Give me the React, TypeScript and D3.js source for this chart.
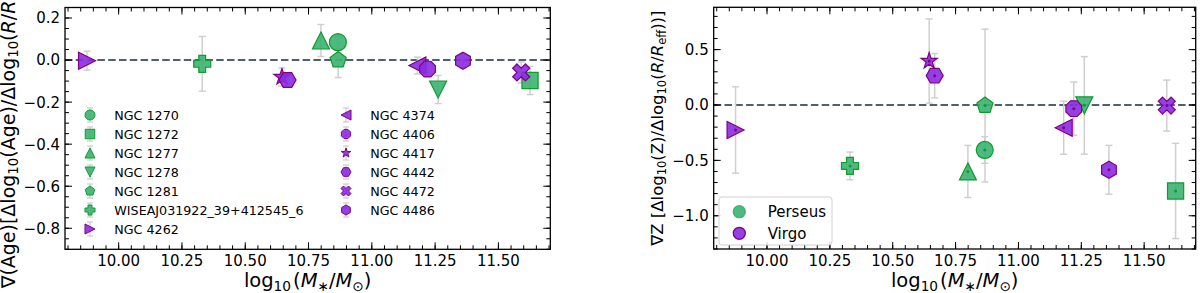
import React from "react";
import * as d3 from "d3";

// ---------------- data ----------------
const galaxies = [
  "NGC 1270", "NGC 1272", "NGC 1277", "NGC 1278", "NGC 1281",
  "WISEAJ031922_39+412545_6", "NGC 4262", "NGC 4374", "NGC 4406",
  "NGC 4417", "NGC 4442", "NGC 4472", "NGC 4486",
];
const clusters = [
  "Perseus", "Perseus", "Perseus", "Perseus", "Perseus", "Perseus",
  "Virgo", "Virgo", "Virgo", "Virgo", "Virgo", "Virgo", "Virgo",
];
const markerTypes = ["o", "s", "^", "v", "p", "P", ">", "<", "8", "*", "H", "X", "h"];
const logMass = [10.866, 11.625, 10.799, 11.262, 10.867, 10.33, 9.875, 11.18, 11.22, 10.645, 10.667, 11.59, 11.36];
const ageGrad = [0.085, -0.097, 0.093, -0.14, 0.0, -0.018, -0.003, -0.026, -0.043, -0.081, -0.095, -0.059, -0.003];
const ageErr = [0.03, 0.067, 0.076, 0.067, 0.083, 0.13, 0.045, 0.04, 0.03, 0.043, 0.03, 0.05, 0.035];
const zGrad = [-0.406, -0.776, -0.6, -0.003, -0.005, -0.55, -0.225, -0.205, -0.033, 0.397, 0.265, -0.005, -0.585];
const zErr = [0.12, 0.43, 0.235, 0.44, 0.69, 0.125, 0.39, 0.24, 0.24, 0.38, 0.2, 0.23, 0.22];
const clusterNames = ["Perseus", "Virgo"];
const xTicks = [10.0, 10.25, 10.5, 10.75, 11.0, 11.25, 11.5];
const ageTicks = [0.2, 0.0, -0.2, -0.4, -0.6, -0.8];
const zTicks = [0.5, 0.0, -0.5, -1.0];
const xDomain = [9.788, 11.705];
const ageDomain = [-0.9, 0.25];
const zDomain = [-1.3, 0.882];

// ---------------- style ----------------
const FONT = "DejaVu Sans, Verdana, sans-serif";
const FILL: Record<string, string> = { Perseus: "#3cb371", Virgo: "#8a2be2" };
const EDGE: Record<string, string> = { Perseus: "#119a2e", Virgo: "#800080" };
const ERR_COLOR = "#cfcfcf";
const ZERO_COLOR = "#4e6072";

function poly(pts: number[][]) {
  return "M" + pts.map((p) => `${p[0].toFixed(2)},${p[1].toFixed(2)}`).join("L") + "Z";
}
function regular(n: number, r: number, rot: number) {
  const pts: number[][] = [];
  for (let i = 0; i < n; i++) {
    const a = -Math.PI / 2 + rot + (i * 2 * Math.PI) / n;
    pts.push([r * Math.cos(a), r * Math.sin(a)]);
  }
  return poly(pts);
}
function markerPath(t: string, ms: number) {
  const h = ms / 2;
  switch (t) {
    case "o":
      return `M${-h},0A${h},${h} 0 1,0 ${h},0A${h},${h} 0 1,0 ${-h},0Z`;
    case "s": {
      const s = h * 0.95;
      return poly([[-s, -s], [s, -s], [s, s], [-s, s]]);
    }
    case "^":
      return poly([[0, -h], [-h, h], [h, h]]);
    case "v":
      return poly([[0, h], [-h, -h], [h, -h]]);
    case ">":
      return poly([[h, 0], [-h, -h], [-h, h]]);
    case "<":
      return poly([[-h, 0], [h, -h], [h, h]]);
    case "p":
      return regular(5, h, 0);
    case "h":
      return regular(6, h, 0);
    case "H":
      return regular(6, h, Math.PI / 6);
    case "8":
      return regular(8, h, Math.PI / 8);
    case "*": {
      const pts: number[][] = [];
      for (let i = 0; i < 10; i++) {
        const r = i % 2 === 0 ? h : h * 0.381966;
        const a = -Math.PI / 2 + (i * Math.PI) / 5;
        pts.push([r * Math.cos(a), r * Math.sin(a)]);
      }
      return poly(pts);
    }
    case "P": {
      const b = [[-1, -0.4], [-1, 0.4], [-0.4, 0.4], [-0.4, 1], [0.4, 1], [0.4, 0.4], [1, 0.4], [1, -0.4], [0.4, -0.4], [0.4, -1], [-0.4, -1], [-0.4, -0.4]];
      return poly(b.map((p) => [p[0] * h, p[1] * h]));
    }
    case "X": {
      const b = [[-1, -2], [0, -1], [1, -2], [2, -1], [1, 0], [2, 1], [1, 2], [0, 1], [-1, 2], [-2, 1], [-1, 0], [-2, -1]];
      return poly(b.map((p) => [(p[0] * ms) / 4, (p[1] * ms) / 4]));
    }
  }
  return "";
}

type Frame = { x0: number; x1: number; y0: number; y1: number };

function range(lo: number, hi: number, step: number) {
  const a = Math.ceil(lo / step - 1e-9);
  const b = Math.floor(hi / step + 1e-9);
  return d3.range(a, b + 1).map((i) => +(i * step).toFixed(6));
}

function Panel(props: {
  frame: Frame;
  yDomain: number[];
  yVals: number[];
  yErrs: number[];
  yMajor: number[];
  yMinorStep: number;
  dots: boolean;
}) {
  const { frame, yDomain, yVals, yErrs, yMajor, yMinorStep, dots } = props;
  const x = d3.scaleLinear().domain(xDomain).range([frame.x0, frame.x1]);
  const y = d3.scaleLinear().domain(yDomain).range([frame.y1, frame.y0]);
  const xMinor = range(xDomain[0], xDomain[1], 0.05);
  const yMinor = range(yDomain[0], yDomain[1], yMinorStep);
  const fx = d3.format(".2f");
  const fy = d3.format(".1f");
  const MAJ = 7, MIN = 4;
  const cap = 3.5;
  return (
    <g>
      {/* zero line */}
      <line x1={frame.x0} x2={frame.x1} y1={y(0)} y2={y(0)} stroke={ZERO_COLOR} strokeWidth={2} strokeDasharray="7.5,3.3" />
      {/* error bars */}
      {logMass.map((m, i) => {
        const cx = x(m);
        const ya = y(yVals[i] + yErrs[i]);
        const yb = y(yVals[i] - yErrs[i]);
        return (
          <g key={"e" + i} stroke={ERR_COLOR} strokeWidth={1.5}>
            <line x1={cx} x2={cx} y1={ya} y2={yb} />
            <line x1={cx - cap} x2={cx + cap} y1={ya} y2={ya} />
            <line x1={cx - cap} x2={cx + cap} y1={yb} y2={yb} />
          </g>
        );
      })}
      {/* markers */}
      {logMass.map((m, i) => (
        <path
          key={"m" + i}
          d={markerPath(markerTypes[i], 17)}
          transform={`translate(${x(m)},${y(yVals[i])})`}
          fill={FILL[clusters[i]]}
          fillOpacity={0.9}
          stroke={EDGE[clusters[i]]}
          strokeWidth={1.2}
          strokeLinejoin="miter"
        />
      ))}
      {dots &&
        logMass.map((m, i) => (
          <circle key={"d" + i} cx={x(m)} cy={y(yVals[i])} r={1.5} fill={EDGE[clusters[i]]} />
        ))}
      {/* ticks */}
      <g stroke="#000" strokeWidth={1}>
        {xMinor.map((v) => (
          <g key={"xm" + v}>
            <line x1={x(v)} x2={x(v)} y1={frame.y1} y2={frame.y1 - MIN} />
            <line x1={x(v)} x2={x(v)} y1={frame.y0} y2={frame.y0 + MIN} />
          </g>
        ))}
        {xTicks.map((v) => (
          <g key={"xM" + v}>
            <line x1={x(v)} x2={x(v)} y1={frame.y1} y2={frame.y1 - MAJ} />
            <line x1={x(v)} x2={x(v)} y1={frame.y0} y2={frame.y0 + MAJ} />
          </g>
        ))}
        {yMinor.map((v) => (
          <g key={"ym" + v}>
            <line x1={frame.x0} x2={frame.x0 + MIN} y1={y(v)} y2={y(v)} />
            <line x1={frame.x1} x2={frame.x1 - MIN} y1={y(v)} y2={y(v)} />
          </g>
        ))}
        {yMajor.map((v) => (
          <g key={"yM" + v}>
            <line x1={frame.x0} x2={frame.x0 + MAJ} y1={y(v)} y2={y(v)} />
            <line x1={frame.x1} x2={frame.x1 - MAJ} y1={y(v)} y2={y(v)} />
          </g>
        ))}
      </g>
      {/* tick labels */}
      <g fontFamily={FONT} fontSize={15} fill="#000">
        {xTicks.map((v) => (
          <text key={"xl" + v} x={x(v)} y={frame.y1 + 16.5} textAnchor="middle">
            {fx(v)}
          </text>
        ))}
        {yMajor.map((v) => (
          <text key={"yl" + v} x={frame.x0 - 5} y={y(v)} dy="0.36em" textAnchor="end">
            {fy(v)}
          </text>
        ))}
      </g>
      {/* frame */}
      <rect x={frame.x0} y={frame.y0} width={frame.x1 - frame.x0} height={frame.y1 - frame.y0} fill="none" stroke="#000" strokeWidth={1.3} />
    </g>
  );
}

function XLabel({ cx }: { cx: number }) {
  return (
    <text x={cx} y={287} textAnchor="middle" fontFamily={FONT} fontSize={19.5}>
      <tspan>log</tspan>
      <tspan dy={4} fontSize={13.7}>10</tspan>
      <tspan dy={-4} dx={2}>(</tspan>
      <tspan fontStyle="italic">M</tspan>
      <tspan dy={4} fontSize={13.7}>∗</tspan>
      <tspan dy={-4}>/</tspan>
      <tspan fontStyle="italic">M</tspan>
      <tspan dy={4} fontSize={13.7}>⊙</tspan>
      <tspan dy={-4}>)</tspan>
    </text>
  );
}

function LeftLegend() {
  return (
    <g fontFamily={FONT} fontSize={12.7}>
      {galaxies.map((g, i) => {
        const col = i < 7 ? 0 : 1;
        const row = i < 7 ? i : i - 7;
        const mx = 90 + col * 256;
        const my = 115 + row * 19;
        return (
          <g key={g}>
            <g stroke={ERR_COLOR} strokeWidth={1.3}>
              <line x1={mx} x2={mx} y1={my - 7} y2={my + 7} />
              <line x1={mx - 3} x2={mx + 3} y1={my - 7} y2={my - 7} />
              <line x1={mx - 3} x2={mx + 3} y1={my + 7} y2={my + 7} />
            </g>
            <path
              d={markerPath(markerTypes[i], 10)}
              transform={`translate(${mx},${my})`}
              fill={FILL[clusters[i]]}
              fillOpacity={0.9}
              stroke={EDGE[clusters[i]]}
              strokeWidth={1}
            />
            <text x={mx + 24.3} y={my} dy="0.36em">{g}</text>
          </g>
        );
      })}
    </g>
  );
}

function RightLegend() {
  return (
    <g fontFamily={FONT} fontSize={15}>
      <rect x={719} y={197} width={113} height={48} rx={3} fill="#fff" fillOpacity={0.8} stroke="#d0d0d0" strokeWidth={1} />
      {clusterNames.map((c, i) => (
        <g key={c}>
          <circle
            cx={739.3}
            cy={211.7 + i * 21.6}
            r={6}
            fill={FILL[c]}
            fillOpacity={0.9}
            stroke={c === "Virgo" ? EDGE[c] : FILL[c]}
            strokeWidth={1.3}
          />
          <text x={767.7} y={211.7 + i * 21.6} dy="0.36em">{c}</text>
        </g>
      ))}
    </g>
  );
}

export default function App() {
  const L: Frame = { x0: 65, x1: 550.3, y0: 7.5, y1: 249.3 };
  const R: Frame = { x0: 713.7, x1: 1195.7, y0: 7.3, y1: 249 };
  return (
    <svg
      width={1200}
      height={293}
      viewBox="0 0 1200 293"
      style={{ position: "absolute", left: 0, top: 0, background: "#fff" }}
    >
      <rect x={0} y={0} width={1200} height={293} fill="#fff" />
      <Panel frame={L} yDomain={ageDomain} yVals={ageGrad} yErrs={ageErr} yMajor={ageTicks} yMinorStep={0.05} dots={false} />
      <Panel frame={R} yDomain={zDomain} yVals={zGrad} yErrs={zErr} yMajor={zTicks} yMinorStep={0.1} dots={true} />
      <LeftLegend />
      <RightLegend />
      <XLabel cx={(L.x0 + L.x1) / 2} />
      <XLabel cx={(R.x0 + R.x1) / 2} />
      {/* y labels */}
      <text
        transform={`translate(14.5,${(L.y0 + L.y1) / 2}) rotate(-90)`}
        textAnchor="middle"
        fontFamily={FONT}
        fontSize={19}
      >
        <tspan>∇(Age)[Δlog</tspan>
        <tspan dy={3.8} fontSize={13.3}>10</tspan>
        <tspan dy={-3.8}>(Age)/Δlog</tspan>
        <tspan dy={3.8} fontSize={13.3}>10</tspan>
        <tspan dy={-3.8}>(</tspan>
        <tspan fontStyle="italic">R</tspan>
        <tspan>/</tspan>
        <tspan fontStyle="italic">R</tspan>
        <tspan dy={3.8} fontSize={13.3}>eff</tspan>
        <tspan dy={-3.8}>)]</tspan>
      </text>
      <text
        transform={`translate(663,${(R.y0 + R.y1) / 2}) rotate(-90)`}
        textAnchor="middle"
        fontFamily={FONT}
        fontSize={16.5}
      >
        <tspan>∇Z [Δlog</tspan>
        <tspan dy={3.3} fontSize={11.5}>10</tspan>
        <tspan dy={-3.3}>(Z)/Δlog</tspan>
        <tspan dy={3.3} fontSize={11.5}>10</tspan>
        <tspan dy={-3.3}>(</tspan>
        <tspan fontStyle="italic">R</tspan>
        <tspan>/</tspan>
        <tspan fontStyle="italic">R</tspan>
        <tspan dy={3.3} fontSize={11.5}>eff</tspan>
        <tspan dy={-3.3}>))]</tspan>
      </text>
    </svg>
  );
}
